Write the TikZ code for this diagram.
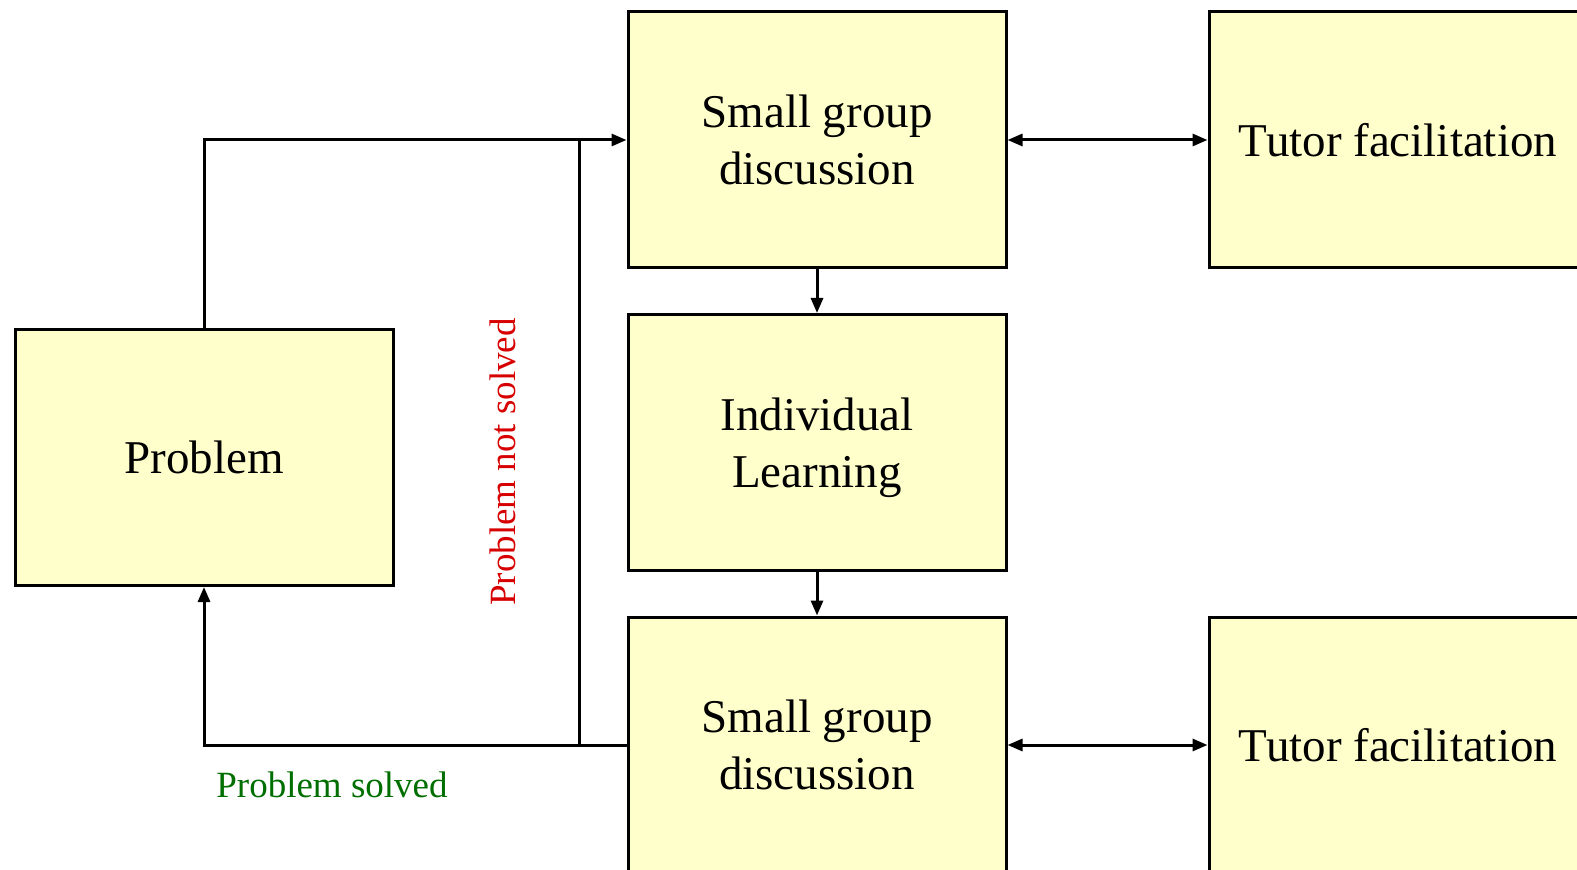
\documentclass[tikz,border=0pt]{standalone}
\usepackage{fontspec}
\setmainfont{Liberation Serif}
\usetikzlibrary{arrows.meta}
\definecolor{boxfill}{RGB}{255,255,204}
\definecolor{notred}{RGB}{215,0,0}
\definecolor{okgreen}{RGB}{0,110,0}
\tikzset{
  box/.style={draw=black, fill=boxfill, line width=1.5pt, minimum width=189pt, minimum height=128pt,
    inner sep=0pt, align=center, font=\fontsize{23.5}{28.5}\selectfont},
  boxtext/.style={inner sep=0pt, align=center, font=\fontsize{23.5}{28.5}\selectfont},
  conn/.style={line width=1.5pt, draw=black},
  tip/.style={-{Triangle[length=7.5pt,width=6pt]}},
  dtip/.style={{Triangle[length=7.5pt,width=6pt]}-{Triangle[length=7.5pt,width=6pt]}},
  lbl/.style={font=\fontsize{18.5}{22}\selectfont, inner sep=0pt}
}
\begin{document}
\begin{tikzpicture}[x=0.5pt,y=-0.5pt]
\useasboundingbox (0,0) rectangle (1577,870);
\clip (0,0) rectangle (1577,870);
\node[box] (prob) at (204,457.5) {Problem};
\node[box] (sg1) at (817,140) {Small group\\discussion};
\node[box] (ind) at (817,442.5) {};
\node[boxtext] (indt) at ([yshift=-2.5pt]ind.center) {Individual\\Learning};
\node[box] (sg2) at (817,745) {Small group\\discussion};
\node[box] (t1) at (1398,140) {Tutor facilitation};
\node[box] (t2) at (1398,745) {Tutor facilitation};
\coordinate (j1) at (579,140);
\coordinate (j2) at (579,745);
\draw[conn,tip] (prob.north) |- (sg1.west);
\draw[conn] (j2) -- (j1);
\draw[conn,tip] (sg2.west) -| (prob.south);
\draw[conn,tip] (sg1.south) -- (ind.north);
\draw[conn,tip] (ind.south) -- (sg2.north);
\draw[conn,dtip] (sg1.east) -- (t1.west);
\draw[conn,dtip] (sg2.east) -- (t2.west);
\node[lbl, text=notred, rotate=90] (nsol) at (503,462) {Problem not solved};
\node[lbl, text=okgreen] (sol) at (332,785) {Problem solved};
\end{tikzpicture}
\end{document}
